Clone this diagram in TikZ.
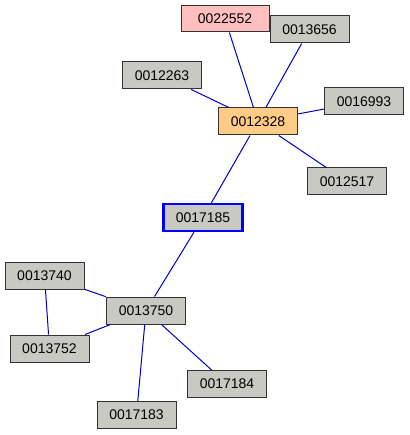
\documentclass[tikz,border=0pt]{standalone}
\usepackage{fontspec}
\setmainfont{Liberation Sans}
\usepackage{tikz}
\usetikzlibrary{positioning}
\usepackage{xcolor}
\definecolor{boxgray}{RGB}{200,201,195}
\definecolor{hubyellow}{RGB}{255,204,136}
\definecolor{rootpink}{RGB}{255,191,191}
\definecolor{linkblue}{RGB}{0,0,205}

\begin{document}
\begin{tikzpicture}[x=1pt, y=-1pt,
        gbox/.style={rectangle, draw=black!80, fill=boxgray, line width=1pt, minimum width=79pt, minimum height=27pt, inner sep=0pt, align=center, font=\fontsize{14}{16}\selectfont},
        hbox/.style={gbox, fill=hubyellow},
        rbox/.style={gbox, fill=rootpink, minimum width=88pt, minimum height=26pt},
        sbox/.style={gbox, draw=blue, line width=2.5pt},
        link/.style={draw=linkblue, line width=1pt}
    ]
        \useasboundingbox (0,0) rectangle (409,435);

        % Nodos del grupo superior
        \node [rbox] (p0022552) at (225, 19) {0022552};
        \node [gbox] (p0013656) at (309.5, 29.5) {0013656};
        \node [gbox] (p0012263) at (162, 75.5) {0012263};
        \node [hbox] (p0012328) at (258, 121.5) {0012328};
        \node [gbox] (p0016993) at (364, 101.5) {0016993};
        \node [gbox] (p0012517) at (347, 181.5) {0012517};

        % Nodo puente
        \node [sbox] (p0017185) at (203, 217.5) {0017185};

        % Nodos del grupo inferior
        \node [gbox] (p0013740) at (44.5, 275.5) {0013740};
        \node [gbox] (p0013750) at (146, 310.5) {0013750};
        \node [gbox] (p0013752) at (49.5, 348.5) {0013752};
        \node [gbox] (p0017184) at (227, 384) {0017184};
        \node [gbox] (p0017183) at (136.5, 415) {0017183};

        % Enlaces
        \draw [link] (p0022552) -- (p0012328);
        \draw [link] (p0013656) -- (p0012328);
        \draw [link] (p0012263) -- (p0012328);
        \draw [link] (p0016993) -- (p0012328);
        \draw [link] (p0012517) -- (p0012328);
        \draw [link] (p0012328) -- (p0017185);
        \draw [link] (p0017185) -- (p0013750);
        \draw [link] (p0013740) -- (p0013750);
        \draw [link] (p0013740) -- (p0013752);
        \draw [link] (p0013752) -- (p0013750);
        \draw [link] (p0013750) -- (p0017183);
        \draw [link] (p0013750) -- (p0017184);
    \end{tikzpicture}
\end{document}
